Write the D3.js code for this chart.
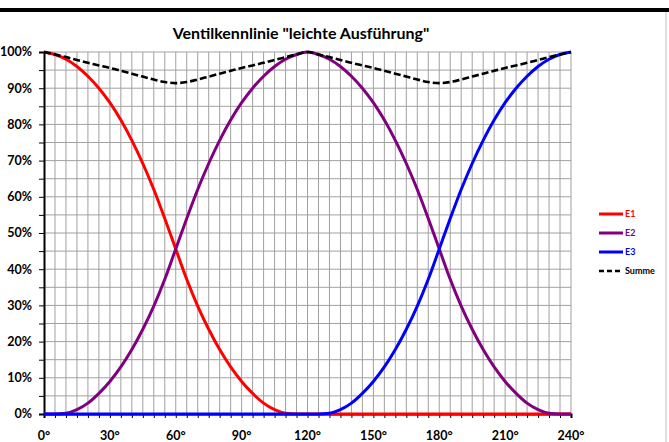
<!DOCTYPE html>
<html>
<head>
<meta charset="utf-8">
<script src="https://cdn.jsdelivr.net/npm/d3@7"></script>
<style>
  body { margin: 0; background: #fff; }
  text { font-family: Lato, "DejaVu Sans", sans-serif; font-weight: bold; }
</style>
</head>
<body>
<svg id="chart" width="669" height="442"></svg>
<script>
// angle in degrees, every 5 deg
const angles = d3.range(0, 241, 5);

// valve curves in percent
const e1 = [100, 99.3, 98.0, 96.0, 93.3, 90.0, 86.0, 81.2, 75.6, 69.2, 62.0, 54.0, 45.6,
  37.2, 29.8, 23.4, 17.8, 13.0, 9.0, 5.7, 3.0, 1.2, 0.2, 0, 0,
  0, 0, 0, 0, 0, 0, 0, 0, 0, 0, 0, 0,
  0, 0, 0, 0, 0, 0, 0, 0, 0, 0, 0, 0];
const e2 = [0, 0, 0.2, 1.2, 3.0, 5.7, 9.0, 13.0, 17.8, 23.4, 29.8, 37.2, 45.6,
  54.0, 62.0, 69.2, 75.6, 81.2, 86.0, 90.0, 93.3, 96.0, 98.0, 99.3, 100,
  99.3, 98.0, 96.0, 93.3, 90.0, 86.0, 81.2, 75.6, 69.2, 62.0, 54.0, 45.6,
  37.2, 29.8, 23.4, 17.8, 13.0, 9.0, 5.7, 3.0, 1.2, 0.2, 0, 0];
const e3 = [0, 0, 0, 0, 0, 0, 0, 0, 0, 0, 0, 0, 0,
  0, 0, 0, 0, 0, 0, 0, 0, 0, 0, 0, 0,
  0, 0.2, 1.2, 3.0, 5.7, 9.0, 13.0, 17.8, 23.4, 29.8, 37.2, 45.6,
  54.0, 62.0, 69.2, 75.6, 81.2, 86.0, 90.0, 93.3, 96.0, 98.0, 99.3, 100];
const summe = [100, 99.3, 98.6, 97.8, 97.0, 96.3, 95.6, 94.8, 94.0, 93.2, 92.4, 91.7, 91.4,
  91.7, 92.4, 93.2, 94.0, 94.8, 95.6, 96.3, 97.0, 97.8, 98.6, 99.3, 100,
  99.3, 98.6, 97.8, 97.0, 96.3, 95.6, 94.8, 94.0, 93.2, 92.4, 91.7, 91.4,
  91.7, 92.4, 93.2, 94.0, 94.8, 95.6, 96.3, 97.0, 97.8, 98.6, 99.3, 100];

const seriesNames = ["E1", "E2", "E3", "Summe"];
const seriesColors = ["#ff0000", "#800080", "#0000ff", "#000000"];
const xTicks = [0, 30, 60, 90, 120, 150, 180, 210, 240];
const yTicks = [0, 10, 20, 30, 40, 50, 60, 70, 80, 90, 100];

const svg = d3.select("#chart");

// frame bits around the picture
svg.append("rect").attr("x", 0).attr("y", 8).attr("width", 669).attr("height", 4).attr("fill", "#000");
svg.append("line").attr("x1", 666).attr("x2", 666).attr("y1", 12).attr("y2", 442)
  .attr("stroke", "#c0c0c0").attr("stroke-width", 1);

const x = d3.scaleLinear().domain([0, 240]).range([44, 571]);
const y = d3.scaleLinear().domain([0, 100]).range([414, 52]);

// grid
const grid = svg.append("g");
grid.selectAll(".gx").data(d3.range(5, 241, 5)).join("line")
  .attr("x1", d => x(d)).attr("x2", d => x(d))
  .attr("y1", y(0)).attr("y2", y(100))
  .attr("stroke", "#a0a0a0").attr("stroke-width", 1);
grid.selectAll(".gy").data(d3.range(5, 101, 5)).join("line")
  .attr("x1", x(0)).attr("x2", x(240))
  .attr("y1", d => y(d)).attr("y2", d => y(d))
  .attr("stroke", "#a0a0a0").attr("stroke-width", 1);

// axes
const xAxis = svg.append("g").attr("transform", `translate(0,${y(0)})`)
  .call(d3.axisBottom(x).tickValues(d3.range(0, 241, 5)).tickSize(4).tickFormat(""));
xAxis.select(".domain").attr("stroke-width", 2);
const yAxis = svg.append("g").attr("transform", `translate(${x(0)},0)`)
  .call(d3.axisLeft(y).tickValues(d3.range(0, 101, 5)).tickSize(5).tickFormat(""));
yAxis.select(".domain").attr("stroke-width", 2);

svg.append("g").selectAll("text").data(xTicks).join("text")
  .attr("x", d => x(d)).attr("y", 440)
  .attr("text-anchor", "middle").attr("font-size", 12.5)
  .text(d => d + "°");
svg.append("g").selectAll("text").data(yTicks).join("text")
  .attr("x", 32).attr("y", d => y(d)).attr("dy", "0.35em")
  .attr("text-anchor", "end").attr("font-size", 12.5)
  .text(d => d + "%");

// title
svg.append("text").attr("x", 301).attr("y", 39).attr("text-anchor", "middle")
  .attr("font-size", 16).text('Ventilkennlinie "leichte Ausführung"');

// curves: drawn red, purple, blue, then the sum on top
const line = d3.line().x((d, i) => x(angles[i])).y(d => y(d)).curve(d3.curveMonotoneX);
const data = [e1, e2, e3, summe];
data.forEach((vals, k) => {
  svg.append("path").datum(vals)
    .attr("d", line)
    .attr("fill", "none")
    .attr("stroke", seriesColors[k])
    .attr("stroke-width", k === 3 ? 2.6 : 3)
    .attr("stroke-dasharray", k === 3 ? "7,3" : null)
    .attr("stroke-linejoin", "round");
});

// legend
const legend = svg.append("g");
seriesNames.forEach((name, k) => {
  const ly = 214 + k * 19;
  legend.append("line").attr("x1", 599).attr("x2", 623).attr("y1", ly).attr("y2", ly)
    .attr("stroke", seriesColors[k]).attr("stroke-width", k === 3 ? 2.5 : 3)
    .attr("stroke-dasharray", k === 3 ? "5,3" : null);
  legend.append("text").attr("x", 625).attr("y", ly).attr("dy", "0.35em")
    .attr("font-size", 9).attr("fill", seriesColors[k]).text(name);
});
</script>
</body>
</html>
